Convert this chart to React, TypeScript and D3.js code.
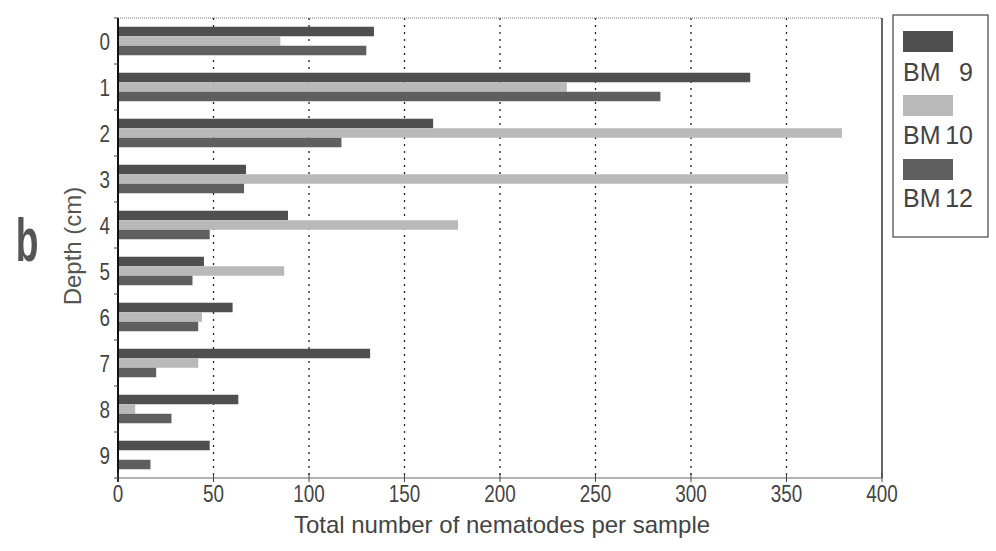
import React from "react";
import * as d3 from "d3";

// depth classes (cm) and nematode counts per core
const depths = ["0", "1", "2", "3", "4", "5", "6", "7", "8", "9"];
const bm9 = [134, 331, 165, 67, 89, 45, 60, 132, 63, 48];
const bm10 = [85, 235, 379, 351, 178, 87, 44, 42, 9, 0];
const bm12 = [130, 284, 117, 66, 48, 39, 42, 20, 28, 17];
const series = ["BM 9", "BM 10", "BM 12"];
const xTicks = [0, 50, 100, 150, 200, 250, 300, 350, 400];

const colors = ["#4f4f4f", "#b9b9b9", "#5f5f5f"];

// narrow-ish digits like the scanned figure
function Num({ x, y, anchor, children }: { x: number; y: number; anchor: string; children: any }) {
  return (
    <text
      transform={`translate(${x},${y}) scale(0.82,1)`}
      textAnchor={anchor}
      fontSize={23}
      fill="#444"
    >
      {children}
    </text>
  );
}

export default function App() {
  const width = 996;
  const height = 551;
  const margin = { top: 18, bottom: 73, left: 118, right: 114 };

  const x = d3.scaleLinear().domain([0, 400]).range([margin.left, width - margin.right]);
  const y = d3
    .scaleBand<string>()
    .domain(depths)
    .range([margin.top, height - margin.bottom])
    .paddingInner(0.38)
    .paddingOuter(0.19);
  const sub = d3.scaleBand<string>().domain(series).range([0, y.bandwidth()]);

  const values = [bm9, bm10, bm12];
  const step = y.step();
  const bottom = height - margin.bottom;
  const font = "'Liberation Sans', Arial, sans-serif";

  // boundaries between depth classes, where the little ticks go
  const bounds = depths.map((d) => (y(d) as number) - (step * 0.38) / 2);
  bounds.push(bottom);

  return (
    <svg
      width={width}
      height={height}
      style={{ position: "absolute", left: 0, top: 0, background: "#fff" }}
      fontFamily={font}
    >
      {/* dotted grid */}
      {xTicks.slice(1, -1).map((t) => (
        <line
          key={"g" + t}
          x1={x(t)}
          x2={x(t)}
          y1={margin.top}
          y2={bottom}
          stroke="#222"
          strokeWidth={1.3}
          strokeDasharray="2,5"
        />
      ))}

      {/* bars */}
      {series.map((s, i) =>
        depths.map((d, j) =>
          values[i][j] > 0 ? (
            <rect
              key={s + d}
              x={x(0)}
              y={(y(d) as number) + (sub(s) as number)}
              width={x(values[i][j]) - x(0)}
              height={sub.bandwidth()}
              fill={colors[i]}
            />
          ) : null
        )
      )}

      {/* frame */}
      <line x1={margin.left} x2={x(400)} y1={margin.top} y2={margin.top} stroke="#777" strokeWidth={1} strokeDasharray="1,1" />
      <line x1={x(400)} x2={x(400)} y1={margin.top} y2={bottom} stroke="#333" strokeWidth={1.5} />
      <line x1={margin.left} x2={x(400)} y1={bottom} y2={bottom} stroke="#666" strokeWidth={1} />
      <line x1={margin.left} x2={margin.left} y1={margin.top} y2={bottom + 4} stroke="#111" strokeWidth={2} />

      {/* y ticks and labels */}
      {bounds.map((b, i) => (
        <line key={"yt" + i} x1={margin.left - 4} x2={margin.left} y1={b} y2={b} stroke="#444" strokeWidth={1} />
      ))}
      {depths.map((d) => (
        <Num key={"yl" + d} x={margin.left - 8} y={(y(d) as number) + y.bandwidth() / 2 + 9} anchor="end">
          {d}
        </Num>
      ))}

      {/* x ticks and labels */}
      {xTicks.map((t) => (
        <g key={"xt" + t}>
          <line x1={x(t)} x2={x(t)} y1={bottom - 5} y2={bottom + 4} stroke="#444" strokeWidth={1} />
          <Num x={x(t)} y={bottom + 24} anchor="middle">
            {t}
          </Num>
        </g>
      ))}

      <text x={502} y={533} textAnchor="middle" fontSize={24} fill="#444">
        Total number of nematodes per sample
      </text>
      <text
        transform={`translate(81,246) rotate(-90)`}
        textAnchor="middle"
        fontSize={24}
        fill="#555"
      >
        Depth (cm)
      </text>
      <text
        transform="translate(27,261) scale(0.6,1)"
        textAnchor="middle"
        fontSize={62}
        fontWeight="bold"
        fill="#555"
      >
        b
      </text>

      {/* legend */}
      <rect x={893} y={15} width={95} height={222} fill="#fff" stroke="#444" strokeWidth={1.2} />
      {series.map((s, i) => (
        <g key={"lg" + s}>
          <rect x={903} y={31 + i * 64} width={50} height={21} fill={colors[i]} />
          <text x={903} y={81 + i * 63} fontSize={25} fill="#444">
            BM
          </text>
          <text x={973} y={81 + i * 63} fontSize={25} fill="#444" textAnchor="end">
            {s.split(" ")[1]}
          </text>
        </g>
      ))}
    </svg>
  );
}
